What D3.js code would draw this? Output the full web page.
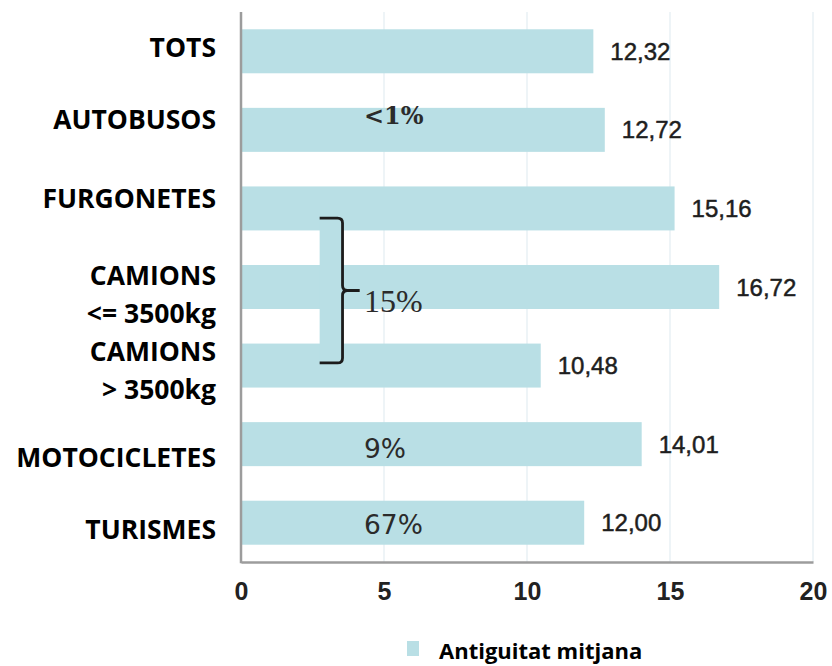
<!DOCTYPE html>
<html>
<head>
<meta charset="utf-8">
<script src="https://cdn.jsdelivr.net/npm/d3@7"></script>
<style>
  body { margin: 0; background: #fff; }
  svg { display: block; }
</style>
</head>
<body>
<script>
;(function() {

  // chart values
  var categories = ["TOTS", "AUTOBUSOS", "FURGONETES", "CAMIONS <= 3500kg", "CAMIONS > 3500kg", "MOTOCICLETES", "TURISMES"];
  var labelLines = [["TOTS"], ["AUTOBUSOS"], ["FURGONETES"], ["CAMIONS", "<= 3500kg"], ["CAMIONS", "> 3500kg"], ["MOTOCICLETES"], ["TURISMES"]];
  var values = [12.32, 12.72, 15.16, 16.72, 10.48, 14.01, 12.00];
  var xTicks = [0, 5, 10, 15, 20];
  var shareCats = ["AUTOBUSOS", "CAMIONS <= 3500kg", "MOTOCICLETES", "TURISMES"];
  var shareText = ["<1%", "15%", "9%", "67%"];
  var seriesName = "Antiguitat mitjana";

  // layout
  var width = 832, height = 666;
  var margin = { top: 12, right: 19, bottom: 104, left: 241 };
  var w = width - margin.left - margin.right;
  var h = height - margin.top - margin.bottom;
  var barColor = "#b9dfe5";
  var labelNudge = [-4, -10, -10, 7, 5, 13, 7];   // the category labels sit a bit off the bars in the original
  var shareStyle = [
    { dy: 0.18, font: "'DejaVu Serif', serif", size: 24, weight: "bold" },
    { dy: 0.80, font: "'Liberation Serif', serif", size: 32, weight: "normal" },
    { dy: 0.60, font: "'DejaVu Sans', sans-serif", size: 26.5, weight: "normal" },
    { dy: 0.55, font: "'DejaVu Sans', sans-serif", size: 26.5, weight: "normal" }
  ];

  var comma = d3.formatLocale({ decimal: ",", thousands: ".", grouping: [3], currency: ["", ""] }).format(".2f");

  var svg = d3.select("body")
    .append("svg")
    .attr("width", width)
    .attr("height", height);

  var canvas = svg.append("g")
    .attr("transform", "translate(" + margin.left + "," + margin.top + ")");

  var x = d3.scaleLinear()
    .domain([0, 20])
    .range([0, w]);

  var y = d3.scaleBand()
    .domain(categories)
    .range([0, h])
    .paddingInner(0.44)
    .paddingOuter(0.22);

  var bw = y.bandwidth();

  // faint gridlines
  canvas.selectAll(".grid")
    .data(xTicks.slice(1))
    .enter().append("line")
    .attr("class", "grid")
    .attr("x1", function(d) { return x(d) })
    .attr("x2", function(d) { return x(d) })
    .attr("y1", 0)
    .attr("y2", h)
    .style("stroke", "#e8f1f4")
    .style("stroke-width", 1.5);

  // bars
  canvas.selectAll(".bar")
    .data(values)
    .enter().append("rect")
    .attr("class", "bar")
    .attr("x", x(0))
    .attr("y", function(d, i) { return y(categories[i]) })
    .attr("width", function(d) { return x(d) - x(0) })
    .attr("height", bw)
    .style("fill", barColor);

  // value labels
  canvas.selectAll(".val")
    .data(values)
    .enter().append("text")
    .attr("class", "val")
    .attr("x", function(d) { return x(d) + 17 })
    .attr("y", function(d, i) { return y(categories[i]) + bw / 2 })
    .attr("dy", "0.36em")
    .style("font-family", "'Liberation Sans', Arial, sans-serif")
    .style("font-size", "24px")
    .style("fill", "#1e1e1e")
    .style("stroke", "#1e1e1e")
    .style("stroke-width", 0.5)
    .text(function(d) { return comma(d) });

  // bracket around the two CAMIONS bars
  var bx1 = x(2.75), bx2 = x(3.55), bxNub = x(4.15);
  var byT = y("FURGONETES") + bw * 0.72;
  var byB = y("CAMIONS > 3500kg") + bw * 0.44;
  var byM = (byT + byB) / 2;
  var r = 5;

  canvas.append("rect")
    .attr("x", bx1)
    .attr("y", byT)
    .attr("width", bx2 - bx1)
    .attr("height", byB - byT)
    .style("fill", barColor);

  var p = d3.path();
  p.moveTo(bx1, byT);
  p.lineTo(bx2 - r, byT);
  p.quadraticCurveTo(bx2, byT, bx2, byT + r);
  p.lineTo(bx2, byM - r);
  p.quadraticCurveTo(bx2, byM, bx2 + r, byM);
  p.lineTo(bxNub, byM);
  p.moveTo(bx2 + r, byM);
  p.quadraticCurveTo(bx2, byM, bx2, byM + r);
  p.lineTo(bx2, byB - r);
  p.quadraticCurveTo(bx2, byB, bx2 - r, byB);
  p.lineTo(bx1, byB);

  canvas.append("path")
    .attr("d", p.toString())
    .style("fill", "none")
    .style("stroke", "#1c1c1c")
    .style("stroke-width", 2.8);

  // share annotations
  canvas.selectAll(".share")
    .data(shareText)
    .enter().append("text")
    .attr("class", "share")
    .attr("x", x(4.3))
    .attr("y", function(d, i) { return y(shareCats[i]) + bw * shareStyle[i].dy })
    .attr("dy", "0.36em")
    .style("font-family", function(d, i) { return shareStyle[i].font })
    .style("font-size", function(d, i) { return shareStyle[i].size + "px" })
    .style("font-weight", function(d, i) { return shareStyle[i].weight })
    .style("fill", "#2b2b2b")
    .text(function(d) { return d });

  // axes
  var xAxis = d3.axisBottom(x)
    .tickValues(xTicks)
    .tickSize(0)
    .tickPadding(20)
    .tickFormat(d3.format("d"));

  var gx = canvas.append("g")
    .attr("transform", "translate(0," + h + ")")
    .call(xAxis);

  gx.select(".domain")
    .style("stroke", "#9c9c9c")
    .style("stroke-width", 2.5);

  gx.selectAll("text")
    .style("font-family", "'Liberation Sans', Arial, sans-serif")
    .style("font-weight", "bold")
    .style("font-size", "25px")
    .style("fill", "#222");

  canvas.append("line")
    .attr("x1", x(0))
    .attr("x2", x(0))
    .attr("y1", 0)
    .attr("y2", h + 1.25)
    .style("stroke", "#9c9c9c")
    .style("stroke-width", 2.5);

  // category labels
  var lab = canvas.selectAll(".cat")
    .data(labelLines)
    .enter().append("text")
    .attr("class", "cat")
    .attr("text-anchor", "end")
    .attr("x", -25)
    .attr("y", function(d, i) { return y(categories[i]) + bw / 2 + labelNudge[i] - (d.length - 1) * 19 })
    .style("font-family", "'Open Sans', sans-serif")
    .style("font-weight", "bold")
    .style("font-size", "26.5px")
    .style("fill", "#000");

  lab.selectAll("tspan")
    .data(function(d) { return d })
    .enter().append("tspan")
    .attr("x", -25)
    .attr("dy", function(d, i) { return i == 0 ? "0.36em" : "38px" })
    .text(function(d) { return d });

  // legend
  var legend = svg.append("g")
    .attr("transform", "translate(407,641)");

  legend.append("rect")
    .attr("width", 12)
    .attr("height", 15)
    .style("fill", barColor);

  legend.append("text")
    .attr("x", 32)
    .attr("y", 10)
    .attr("dy", "0.36em")
    .style("font-family", "'Open Sans', sans-serif")
    .style("font-weight", "bold")
    .style("font-size", "22px")
    .style("fill", "#000")
    .text(seriesName);

})();
</script>
</body>
</html>
